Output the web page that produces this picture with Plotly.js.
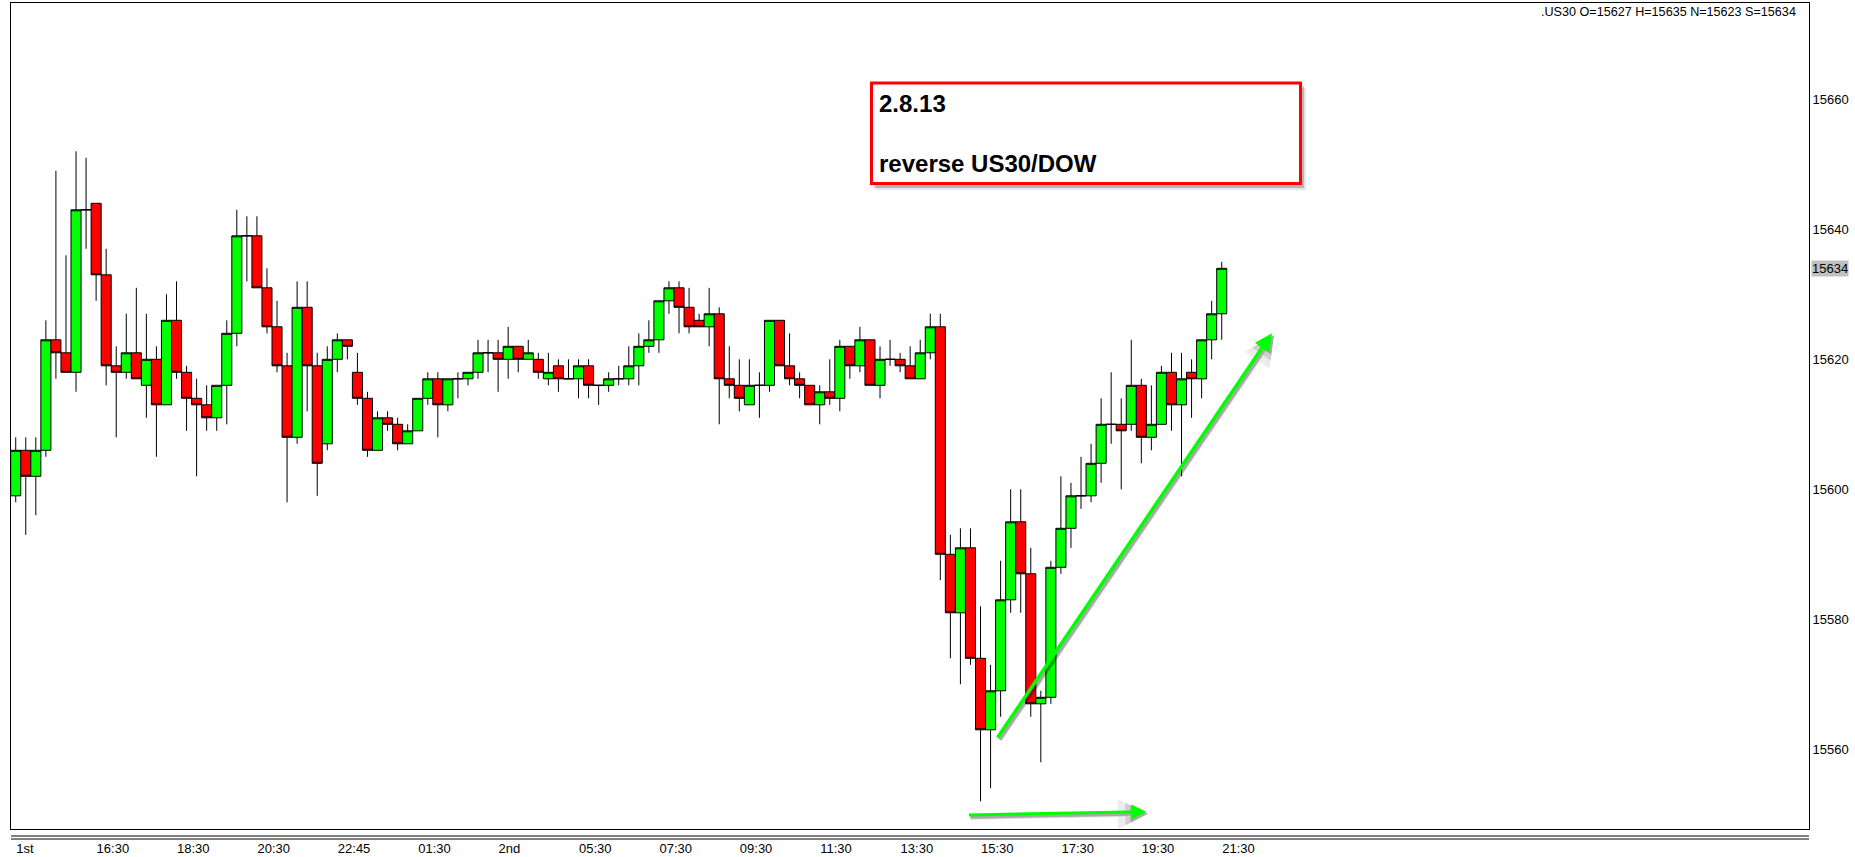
<!DOCTYPE html>
<html>
<head>
<meta charset="utf-8">
<script src="https://cdn.plot.ly/plotly-3.0.1.min.js"></script>
<style>
  html, body { margin: 0; padding: 0; background: #ffffff; }
  #chart { width: 1855px; height: 857px; }
</style>
</head>
<body>
<div id="chart"></div>
<script>
// 15-minute US30 bars, 1st–2nd August
const opens = [
  15599,15606,15602,15606,15623,15621,15618,15643,15644,15633,
  15619,15618,15621,15616,15620,15613,15626,15618,15614,15613,
  15611,15616,15624,15639,15639,15631,15625,15619,15608,15628,
  15619,15607,15620,15623,15618,15614,15606,15611,15610,15607,
  15609,15614,15617,15613,15617,15617,15618,15621,15621,15620,
  15622,15620,15620,15617,15619,15617,15617,15619,15616,15616,
  15617,15617,15619,15622,15623,15629,15631,15628,15626,15625,
  15627,15617,15616,15613,15616,15616,15626,15619,15617,15616,
  15613,15615,15614,15622,15619,15623,15616,15620,15620,15619,
  15617,15621,15625,15590,15581,15591,15574,15563,15569,15583,
  15595,15587,15567,15568,15588,15594,15599,15599,15604,15610,
  15610,15610,15616,15608,15610,15618,15613,15618,15617,15623,
  15627
];
const highs = [
  15608,15608,15608,15626,15649,15636,15652,15651,15644,15637,
  15622,15627,15631,15627,15622,15630,15632,15619,15617,15616,
  15616,15626,15643,15642,15642,15634,15629,15621,15632,15632,
  15621,15622,15624,15623,15621,15615,15612,15612,15611,15610,
  15614,15618,15618,15617,15618,15618,15623,15623,15623,15625,
  15622,15623,15621,15621,15620,15620,15620,15620,15616,15618,
  15619,15622,15624,15626,15629,15632,15632,15631,15627,15631,
  15628,15622,15620,15620,15618,15626,15626,15624,15618,15616,
  15616,15620,15623,15622,15625,15623,15622,15623,15621,15622,
  15623,15627,15627,15593,15594,15594,15582,15573,15589,15600,
  15600,15591,15569,15589,15602,15601,15605,15607,15614,15618,
  15614,15623,15617,15616,15619,15621,15621,15620,15623,15629,
  15635
];
const lows = [
  15598,15593,15596,15605,15617,15618,15615,15637,15629,15616,
  15608,15617,15617,15611,15605,15613,15617,15609,15602,15609,
  15609,15610,15622,15632,15631,15624,15618,15598,15607,15612,
  15599,15606,15618,15620,15613,15605,15606,15609,15606,15607,
  15609,15613,15608,15612,15614,15616,15617,15618,15615,15617,
  15618,15620,15617,15616,15615,15617,15614,15614,15613,15615,
  15616,15616,15616,15621,15621,15627,15624,15624,15625,15622,
  15610,15614,15612,15613,15611,15615,15619,15616,15614,15613,
  15610,15613,15612,15617,15618,15616,15614,15619,15618,15617,
  15617,15620,15586,15574,15570,15573,15552,15554,15565,15581,
  15581,15565,15558,15567,15587,15591,15597,15598,15601,15607,
  15600,15609,15604,15606,15610,15609,15602,15611,15614,15620,
  15623
];
const closes = [
  15606,15602,15606,15623,15621,15618,15643,15643,15633,15619,
  15618,15621,15617,15620,15613,15626,15618,15614,15613,15611,
  15616,15624,15639,15639,15631,15625,15619,15608,15628,15619,
  15604,15620,15623,15622,15614,15606,15611,15610,15607,15609,
  15614,15617,15613,15617,15617,15618,15621,15621,15620,15622,
  15620,15621,15618,15618,15617,15617,15619,15616,15616,15617,
  15617,15619,15622,15623,15629,15631,15628,15625,15625,15627,
  15617,15616,15614,15616,15616,15626,15619,15617,15616,15613,
  15615,15614,15622,15619,15623,15616,15620,15620,15619,15617,
  15621,15625,15590,15581,15591,15574,15563,15569,15583,15595,
  15587,15567,15568,15588,15594,15599,15599,15604,15610,15610,
  15609,15616,15608,15610,15618,15613,15617,15617,15623,15627,
  15634
];

// time-axis labels, one every 8 bars
const tickIdx  = [0, 8, 16, 24, 32, 40, 48, 56, 64, 72, 80, 88, 96, 104, 112, 120];
const tickText = ['1st','16:30','18:30','20:30','22:45','01:30','2nd','05:30',
                  '07:30','09:30','11:30','13:30','15:30','17:30','19:30','21:30'];
const priceTicks = [15560, 15580, 15600, 15620, 15640, 15660];

const symbol = '.US30';
const noteLines = ['2.8.13', 'reverse US30/DOW'];

// hand-drawn trend arrows: [tail bar, tail price, tip bar, tip price]
const upArrow   = [97.6, 15561.6, 125.0, 15624.0];
const flatArrow = [94.7, 15549.9, 112.5, 15550.4];

const W = 1855, H = 857;
const M = { l: 11, r: 46, t: 3, b: 28 };
const pw = W - M.l - M.r, ph = H - M.t - M.b;
const barPx = 10.05;
const xRange = [-0.47, -0.47 + pw / barPx];
const yRange = [15547.74, 15674.815];

const FONT = '"Liberation Sans", Arial, sans-serif';
const px = x => (x - M.l) / pw;
const py = y => (H - M.b - y) / ph;

const idx = opens.map((_, i) => i);
const last = opens.length - 1;

const candles = {
  type: 'candlestick',
  x: idx, open: opens, high: highs, low: lows, close: closes,
  increasing: { line: { color: '#000000', width: 1 }, fillcolor: '#00ff00' },
  decreasing: { line: { color: '#000000', width: 1 }, fillcolor: '#ff0000' },
  whiskerwidth: 0,
  hoverinfo: 'skip',
  showlegend: false
};

function arrow(a, color, width, dx, dy, head) {
  return {
    x: a[2], y: a[3], ax: a[0], ay: a[1],
    xref: 'x', yref: 'y', axref: 'x', ayref: 'y',
    text: '', showarrow: true,
    arrowhead: head, arrowsize: 1, arrowwidth: width, arrowcolor: color,
    xshift: dx, yshift: dy, standoff: 0, startstandoff: 0
  };
}

const annotations = [];
// soft drop shadows under the arrows
[[6, 'rgba(0,0,0,0.07)'], [4.5, 'rgba(0,0,0,0.12)'], [3.5, 'rgba(0,0,0,0.18)']].forEach(([w, c]) => {
  annotations.push(arrow(upArrow, c, w, 2, -2, 2));
  annotations.push(arrow(flatArrow, c, w, 1.5, -2, 2));
});
annotations.push(arrow(upArrow, '#00ff00', 3.5, 0, 0, 2));
annotations.push(arrow(flatArrow, '#00ff00', 3, 0, 0, 2));

// note text
annotations.push({
  xref: 'paper', yref: 'paper', x: px(878.3), y: py(103.1),
  xanchor: 'left', yanchor: 'middle', showarrow: false, borderpad: 0,
  text: '<b>' + noteLines[0] + '</b>',
  font: { family: FONT, size: 24, color: '#000000' }
});
annotations.push({
  xref: 'paper', yref: 'paper', x: px(878.3), y: py(163.1),
  xanchor: 'left', yanchor: 'middle', showarrow: false, borderpad: 0,
  text: '<b>' + noteLines[1] + '</b>',
  font: { family: FONT, size: 24, color: '#000000' }
});

// symbol / OHLC header
annotations.push({
  xref: 'paper', yref: 'paper', x: px(1797), y: py(11.7),
  xanchor: 'right', yanchor: 'middle', showarrow: false, borderpad: 0,
  text: symbol + ' O=' + opens[last] + ' H=' + highs[last] + ' N=' + lows[last] + ' S=' + closes[last],
  font: { family: FONT, size: 12.6, color: '#000000' }
});

// last price marker on the price scale
annotations.push({
  xref: 'paper', yref: 'y', x: 1, y: closes[last], xshift: 1.7,
  xanchor: 'left', yanchor: 'middle', showarrow: false,
  bgcolor: '#c0c0c0', borderpad: 0,
  text: String(closes[last]),
  font: { family: FONT, size: 13, color: '#000000' }
});

const shapes = [
  // double separator line under the chart
  { type: 'line', xref: 'paper', yref: 'paper', x0: 0, x1: 1, y0: py(836), y1: py(836),
    line: { color: '#000000', width: 1 } },
  { type: 'line', xref: 'paper', yref: 'paper', x0: 0, x1: 1, y0: py(839), y1: py(839),
    line: { color: '#000000', width: 1 } },
  // note box shadow
  { type: 'rect', xref: 'paper', yref: 'paper', layer: 'above',
    x0: px(876), x1: px(1306), y0: py(88), y1: py(190),
    fillcolor: 'rgba(0,0,0,0.10)', line: { width: 0 } },
  { type: 'rect', xref: 'paper', yref: 'paper', layer: 'above',
    x0: px(874), x1: px(1304), y0: py(86), y1: py(188),
    fillcolor: 'rgba(0,0,0,0.20)', line: { width: 0 } },
  // note box
  { type: 'rect', xref: 'paper', yref: 'paper', layer: 'above',
    x0: px(871.5), x1: px(1300.5), y0: py(83), y1: py(183.5),
    fillcolor: '#ffffff', line: { color: '#ff0000', width: 3 } }
];

const layout = {
  width: W, height: H,
  margin: M,
  paper_bgcolor: '#ffffff', plot_bgcolor: '#ffffff',
  font: { family: FONT, size: 13, color: '#000000' },
  showlegend: false,
  boxgap: 0,
  boxgroupgap: 0,
  xaxis: {
    type: 'linear', range: xRange, fixedrange: true,
    rangeslider: { visible: false },
    tickmode: 'array', tickvals: tickIdx, ticktext: tickText,
    ticklabelposition: 'outside right', ticks: '', ticklabelstandoff: 7,
    tickfont: { family: FONT, size: 13, color: '#000000' },
    showgrid: false, zeroline: false,
    showline: true, mirror: true, linecolor: '#000000', linewidth: 1
  },
  yaxis: {
    side: 'right', range: yRange, fixedrange: true,
    tickmode: 'array', tickvals: priceTicks, tickformat: 'd',
    ticks: '', ticklabelstandoff: 0,
    tickfont: { family: FONT, size: 13, color: '#000000' },
    showgrid: false, zeroline: false,
    showline: true, mirror: true, linecolor: '#000000', linewidth: 1
  },
  shapes: shapes,
  annotations: annotations
};

Plotly.newPlot('chart', [candles], layout, { displayModeBar: false, staticPlot: true });
</script>
</body>
</html>
